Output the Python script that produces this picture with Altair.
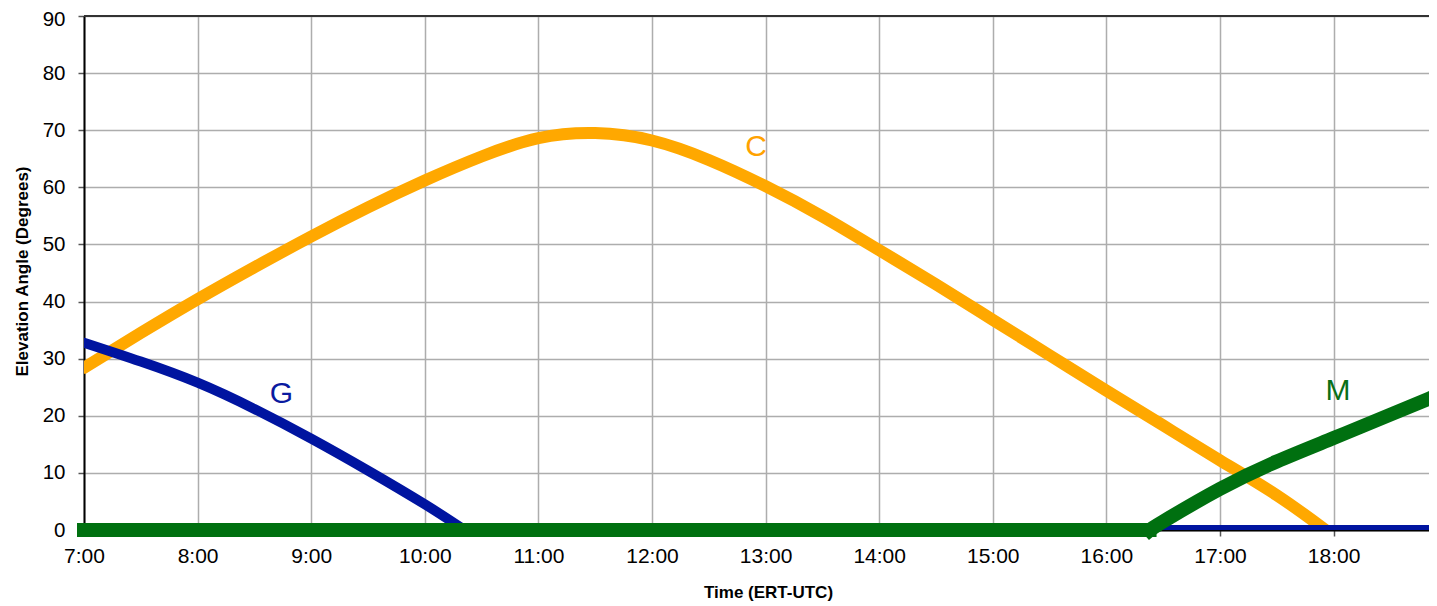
import altair as alt
import pandas as pd

FONT = "Liberation Sans"

# time in hours (decimal), elevation in degrees
c_time = [7.0, 7.5, 8.0, 8.5, 9.0, 9.5, 10.0, 10.5, 11.0, 11.5, 12.0, 12.5, 13.0, 13.5,
          14.0, 14.5, 15.0, 15.5, 16.0, 16.5, 17.0, 17.5, 17.93]
c_elev = [28.4, 34.5, 40.4, 46.0, 51.4, 56.5, 61.2, 65.4, 68.6, 69.5, 68.2, 64.8, 60.2, 54.9,
          49.0, 43.0, 36.8, 30.6, 24.4, 18.3, 12.2, 6.1, 0.0]

g_time_rise = [7.0, 7.5, 8.0, 8.5, 9.0, 9.5, 10.0, 10.35]
g_elev_rise = [32.8, 29.5, 25.8, 21.2, 16.0, 10.4, 4.5, 0.0]
g_time_flat = [10.35, 18.84]
g_elev_flat = [0.0, 0.0]

m_time_flat = [7.0, 16.38]
m_elev_flat = [0.0, 0.0]
m_time_rise = [16.38, 16.5, 17.0, 17.5, 18.0, 18.5, 18.84]
m_elev_rise = [0.0, 1.5, 7.2, 12.0, 16.1, 20.2, 23.0]

label_text = ["C", "G", "M"]
label_time = [12.917, 8.738, 18.039]
label_elev = [67.1, 23.85, 24.4]
label_color = ["#FFA200", "#0A1AA0", "#0A7018"]

hour_ticks = list(range(7, 19))
elev_ticks = list(range(0, 91, 10))

ORANGE = "#FFA800"
BLUE = "#0014A0"
GREEN = "#007010"


def seg(times, vals, name):
    return pd.DataFrame({"t": times, "v": vals, "seg": name})


c_df = seg(c_time, c_elev, "C1")
g_df = pd.concat([seg(g_time_rise, g_elev_rise, "G1"), seg(g_time_flat, g_elev_flat, "G2")])
m_df = pd.concat([seg(m_time_flat, m_elev_flat, "M1"), seg(m_time_rise, m_elev_rise, "M2")])
lab_df = pd.DataFrame({"t": label_time, "v": label_elev, "txt": label_text, "col": label_color})

x_scale = alt.Scale(domain=[7, 18.84], nice=False, zero=False)
y_scale = alt.Scale(domain=[0, 90], nice=False, zero=False)

x_axis = alt.Axis(
    values=hour_ticks, labelExpr="datum.value + ':00'", title="Time (ERT-UTC)",
    labelFont=FONT, labelFontSize=21, labelColor="#000000", labelPadding=9,
    labelFlush=False, labelOverlap=False,
    tickSize=6, tickColor="#555555", tickWidth=1.5,
    domainColor="#000000", domainWidth=2,
    grid=True, gridColor="#ADADAD", gridWidth=1.5,
    titleFont=FONT, titleFontSize=17, titleFontWeight="bold", titleColor="#000000",
    titleX=684, titleY=67, titleAlign="center", titleBaseline="alphabetic",
)
y_axis = alt.Axis(
    values=elev_ticks, title="Elevation Angle (Degrees)",
    labelFont=FONT, labelFontSize=20.5, labelColor="#000000", labelPadding=13,
    labelFlush=False, labelOverlap=False,
    labelOffset=alt.ExprRef(expr="datum.value == 90 ? 3.5 : 0"),
    tickSize=6, tickColor="#555555", tickWidth=1.5,
    domainColor="#000000", domainWidth=2,
    grid=True, gridColor="#ADADAD", gridWidth=1.5,
    titleFont=FONT, titleFontSize=17, titleFontWeight="bold", titleColor="#000000",
    titleAngle=270, titleX=-62, titleY=255, titleAlign="center", titleBaseline="middle",
)

base_x = alt.X("t:Q", scale=x_scale, axis=x_axis)
base_y = alt.Y("v:Q", scale=y_scale, axis=y_axis)

top_border = alt.Chart(pd.DataFrame({"v": [90]})).mark_rule(
    color="#333333", strokeWidth=2
).encode(y=alt.Y("v:Q", scale=y_scale))

c_line = alt.Chart(c_df).mark_line(
    color=ORANGE, strokeWidth=12, interpolate="natural", strokeCap="round", clip=True
).encode(x=base_x, y=base_y, detail="seg:N")

g_line = alt.Chart(g_df).mark_line(
    color=BLUE, strokeWidth=10, interpolate="natural", strokeCap="round", clip=True
).encode(x=alt.X("t:Q", scale=x_scale), y=alt.Y("v:Q", scale=y_scale), detail="seg:N")

m_line = alt.Chart(m_df).mark_line(
    color=GREEN, strokeWidth=14, interpolate="natural", strokeCap="square"
).encode(x=alt.X("t:Q", scale=x_scale), y=alt.Y("v:Q", scale=y_scale), detail="seg:N")

labels = alt.Chart(lab_df).mark_text(
    font=FONT, fontSize=30, align="center", baseline="middle"
).encode(
    x=alt.X("t:Q", scale=x_scale), y=alt.Y("v:Q", scale=y_scale),
    text="txt:N", color=alt.Color("col:N", scale=None),
)

chart = alt.layer(c_line, g_line, m_line, top_border, labels).properties(
    width=1345, height=514,
    autosize=alt.AutoSizeParams(type="none"),
    padding={"left": 76, "top": 8, "right": 0, "bottom": 73},
).configure(background="white", view=alt.ViewConfig(stroke="transparent", strokeWidth=0))

chart.save("out.html", embed_options={"renderer": "svg", "actions": False})
